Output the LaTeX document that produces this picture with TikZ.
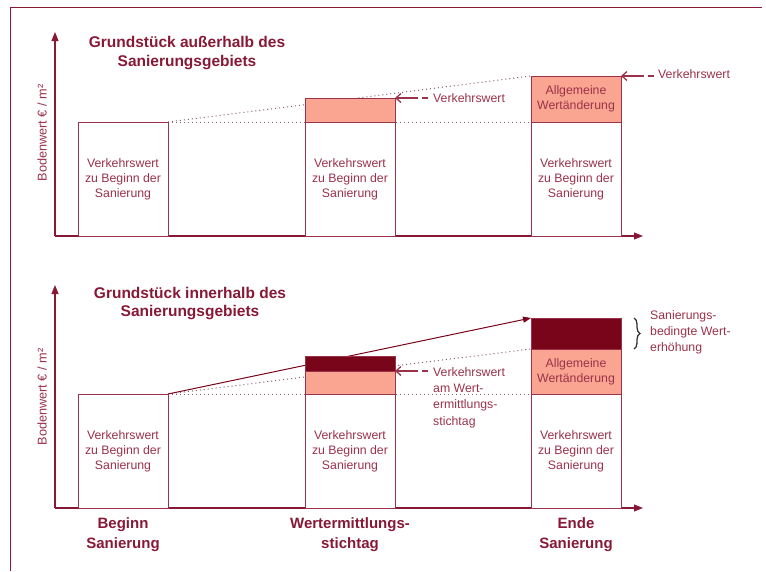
\documentclass[tikz,border=0pt]{standalone}
\usepackage{fontspec}
\setmainfont{Liberation Sans}
\usepackage{xcolor}
\usepackage{tikz}
\usetikzlibrary{arrows.meta, positioning, backgrounds, decorations.pathreplacing}

\definecolor{wine}{RGB}{135,25,55}
\definecolor{boxline}{RGB}{155,50,75}
\definecolor{salmon}{RGB}{250,165,145}
\definecolor{darkwine}{RGB}{120,5,25}

\begin{document}
\begin{tikzpicture}[
    x=1pt, y=-1pt,
    font=\fontsize{12.3}{15}\selectfont,
    bar/.style={rectangle, draw=boxline, line width=0.9pt, inner sep=0pt, outer sep=0pt, minimum width=90pt, anchor=south west, align=center, text=boxline},
    basebox/.style={bar, fill=white, minimum height=114pt},
    genbox/.style={bar, fill=salmon},
    sanbox/.style={bar, fill=darkwine},
    title/.style={font=\fontsize{15.5}{18.5}\selectfont\bfseries, text=wine, align=center},
    timelabel/.style={font=\fontsize{15}{20}\selectfont\bfseries, text=wine, align=center},
    note/.style={text=boxline, align=left, inner sep=0pt, font=\fontsize{12.3}{16.3}\selectfont},
    ylabel/.style={rotate=90, text=boxline, font=\fontsize{12.7}{15}\selectfont},
    axis/.style={-{Triangle[length=9pt,width=7pt]}, wine, line width=1.1pt},
    guide/.style={gray!70!wine, line width=1pt, dash pattern=on 1pt off 3pt},
    callout/.style={-{Straight Barb[length=5pt,width=9pt]}, boxline, line width=1.3pt},
    tick/.style={boxline, line width=1.3pt},
    rise/.style={-{Triangle[length=8pt,width=6pt]}, darkwine, line width=1pt},
    curly/.style={decorate, decoration={brace, amplitude=6pt}, black!80, line width=1.3pt}
]
    \useasboundingbox (0,0) rectangle (766,571);

    % Frame
    \coordinate (frtr) at (762,7);
    \coordinate (frtl) at (10,7);
    \coordinate (frbl) at (10,571);
    \draw[wine, line width=0.8pt] (frtr) -- (frtl) -- (frbl);

    % Upper panel: outside the area
    \node[title] (titleout) at (187,53) {Grundstück außerhalb des\\Sanierungsgebiets};
    \node[ylabel] (yout) at (42,133) {Bodenwert € / m²};
    \coordinate (origout) at (55,236);
    \coordinate (ytipout) at (55,32);
    \coordinate (xtipout) at (643,236);
    \draw[axis] (origout) -- (ytipout);
    \draw[axis] (origout) -- (xtipout);

    \node[basebox] (baseA) at (78,236) {Verkehrswert\\zu Beginn der\\Sanierung};
    \node[basebox] (baseB) at (305,236) {Verkehrswert\\zu Beginn der\\Sanierung};
    \node[genbox, minimum height=24pt] (genB) at (305,122) {};
    \node[basebox] (baseC) at (531,236) {Verkehrswert\\zu Beginn der\\Sanierung};
    \node[genbox, minimum height=46pt] (genC) at (531,122) {Allgemeine\\Wertänderung};

    \begin{pgfonlayer}{background}
        \draw[guide] (baseA.north east) -- (baseC.north west);
        \draw[guide] (baseA.north east) -- (genC.north west);
    \end{pgfonlayer}

    \node[note, anchor=west] (vkB) at (433,98) {Verkehrswert};
    \node[note, anchor=west] (vkC) at (658,74) {Verkehrswert};
    \draw[callout] ([xshift=23pt]genB.north east) -- (genB.north east);
    \draw[tick] ([xshift=27pt]genB.north east) -- ([xshift=33pt]genB.north east);
    \draw[callout] ([xshift=23pt]genC.north east) -- (genC.north east);
    \draw[tick] ([xshift=27pt]genC.north east) -- ([xshift=33pt]genC.north east);

    % Lower panel: inside the area
    \node[title] (titlein) at (190,303.5) {Grundstück innerhalb des\\Sanierungsgebiets};
    \node[ylabel] (yin) at (42,397) {Bodenwert € / m²};
    \coordinate (origin) at (55,508);
    \coordinate (ytipin) at (55,285);
    \coordinate (xtipin) at (643,508);
    \draw[axis] (origin) -- (ytipin);
    \draw[axis] (origin) -- (xtipin);

    \node[basebox] (baseD) at (78,508) {Verkehrswert\\zu Beginn der\\Sanierung};
    \node[basebox] (baseE) at (305,508) {Verkehrswert\\zu Beginn der\\Sanierung};
    \node[genbox, minimum height=23pt] (genE) at (305,394) {};
    \node[sanbox, minimum height=15pt] (sanE) at (305,371) {};
    \node[basebox] (baseF) at (531,508) {Verkehrswert\\zu Beginn der\\Sanierung};
    \node[genbox, minimum height=45pt] (genF) at (531,394) {Allgemeine\\Wertänderung};
    \node[sanbox, minimum height=31pt] (sanF) at (531,349) {};

    \begin{pgfonlayer}{background}
        \draw[guide] (baseD.north east) -- (baseF.north west);
        \draw[guide] (baseD.north east) -- (genF.north west);
        \draw[rise] (baseD.north east) -- (sanF.north west);
    \end{pgfonlayer}

    \node[note, anchor=north west] (vkE) at (433,367) {Verkehrswert\\am Wert-\\ermittlungs-\\stichtag};
    \draw[callout] ([xshift=23pt]genE.north east) -- (genE.north east);
    \draw[tick] ([xshift=27pt]genE.north east) -- ([xshift=33pt]genE.north east);

    \draw[curly] ([xshift=13pt]sanF.north east) -- ([xshift=13pt]sanF.south east);
    \node[note, anchor=north west] (sanlabel) at (650,310) {Sanierungs-\\bedingte Wert-\\erhöhung};

    % Time labels
    \node[timelabel, below=6pt of baseD.south] (tBegin) {Beginn\\Sanierung};
    \node[timelabel, below=6pt of baseE.south] (tStich) {Wertermittlungs-\\stichtag};
    \node[timelabel, below=6pt of baseF.south] (tEnd) {Ende\\Sanierung};
\end{tikzpicture}
\end{document}
